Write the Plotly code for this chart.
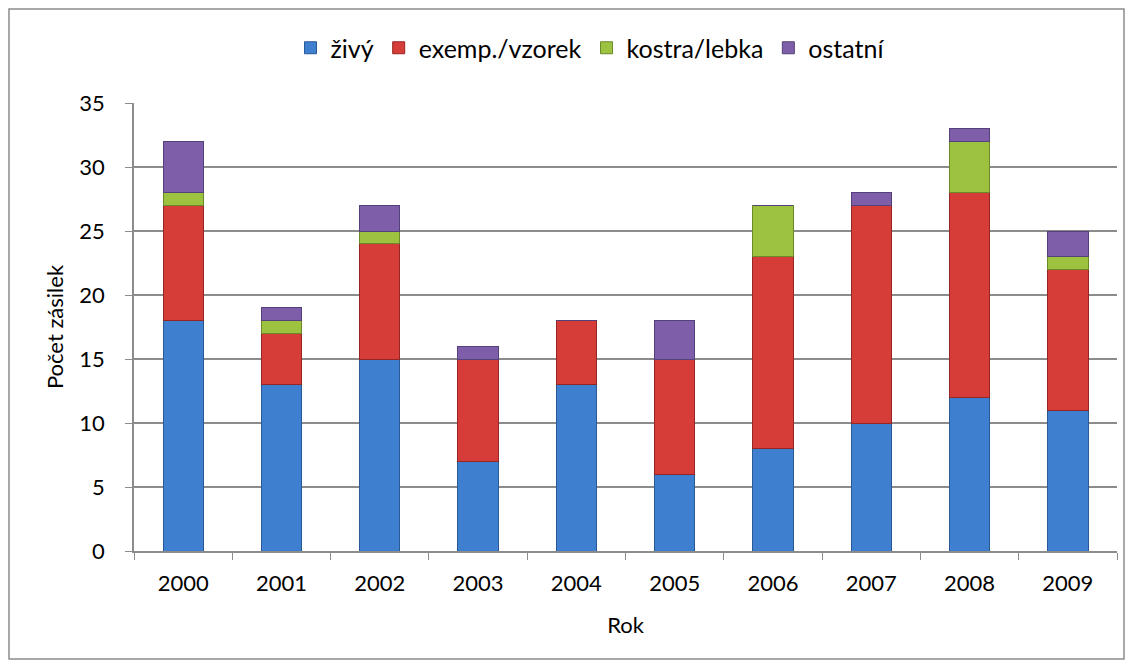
import plotly.graph_objects as go

roky = ["2000", "2001", "2002", "2003", "2004", "2005", "2006", "2007", "2008", "2009"]
zivy = [18, 13, 15, 7, 13, 6, 8, 10, 12, 11]
exemp = [9, 4, 9, 8, 5, 9, 15, 17, 16, 11]
kostra = [1, 1, 1, 0, 0, 0, 4, 0, 4, 1]
ostatni = [4, 1, 2, 1, 0, 3, 0, 1, 1, 2]

series = [
    ("živý", zivy, "#3F7FCF", "#2A5A96"),
    ("exemp./vzorek", exemp, "#D63C38", "#962623"),
    ("kostra/lebka", kostra, "#9CC23F", "#6A8A2A"),
    ("ostatní", ostatni, "#7E5EA8", "#54407A"),
]

fig = go.Figure()
for name, vals, col, edge in series:
    fig.add_trace(go.Bar(
        x=roky, y=vals, name=name,
        marker=dict(color=col, line=dict(color=edge, width=1)),
        width=0.41,
    ))

# page has an 8px body margin, so the figure is a little smaller
W, H = 1126, 660
L, R, T, B = 126, 17, 95, 117
pw, ph = W - L - R, H - T - B

fig.update_layout(
    barmode="stack",
    width=W, height=H,
    margin=dict(l=L, r=R, t=T, b=B),
    plot_bgcolor="white",
    paper_bgcolor="white",
    font=dict(family="Lato, Open Sans, sans-serif", size=22, color="black"),
    legend=dict(
        orientation="h", x=(582 - L) / pw, xanchor="center",
        y=1.0 + (T - 40) / ph, yanchor="middle",
        font=dict(size=25), itemwidth=30, traceorder="normal",
    ),
    shapes=[dict(
        type="rect", xref="paper", yref="paper",
        x0=(1 - L) / pw, x1=(1116 - L) / pw,
        y0=-(651 - (T + ph)) / ph, y1=1 + (T - 1) / ph,
        line=dict(color="#8C8C8C", width=1.5),
    )],
)

fig.update_xaxes(
    title=dict(text="Rok", font=dict(size=22), standoff=22),
    showline=True, linecolor="#8C8C8C", linewidth=1.5,
    ticks="outside", tickson="boundaries", ticklen=7, tickcolor="#8C8C8C",
    ticklabelstandoff=12,
    showgrid=False,
)
fig.update_yaxes(
    title=dict(text="Počet zásilek", font=dict(size=22), standoff=10),
    range=[0, 35], dtick=5,
    showline=True, linecolor="#8C8C8C", linewidth=1.5,
    ticks="outside", ticklen=7, tickcolor="#8C8C8C",
    ticklabelstandoff=16,
    showgrid=True, gridcolor="#8C8C8C", gridwidth=1.5,
    zeroline=False,
)

fig.write_html("out.html")
